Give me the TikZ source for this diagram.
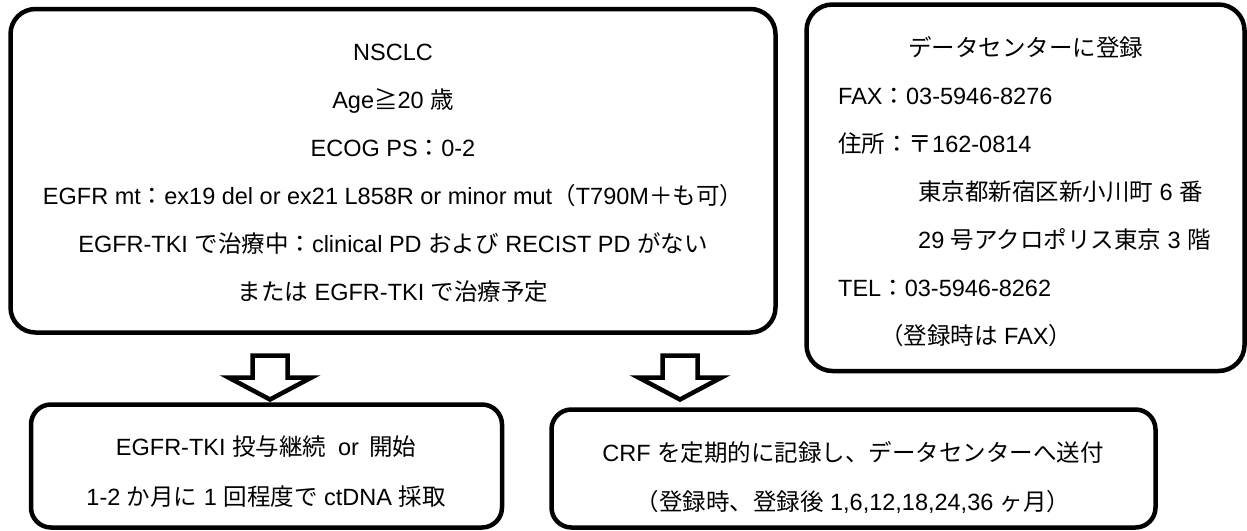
\documentclass[tikz,border=0pt]{standalone}
\usepackage{fontspec}
\setmainfont{Liberation Sans}
\newfontfamily\jp{Noto Sans CJK JP}
\usetikzlibrary{positioning}

\begin{document}
\begin{tikzpicture}[
  x=1pt,y=-1pt,
  font=\fontsize{23.5}{48}\selectfont,
  box/.style={draw,line width=4.5pt,rectangle,inner sep=0pt},
  txt/.style={inner sep=0pt,align=center},
  hollow/.style={draw,line width=4.5pt,fill=white,miter limit=10},
  downarrow/.pic={
    \draw[hollow] (-17.5,0) -- (17.5,0) -- (17.5,22) -- (41.5,22)
      -- (0,44) -- (-41.5,22) -- (-17.5,22) -- cycle;
  },
]
\useasboundingbox (0,0) rectangle (1247,530);

%% ===== Eligibility box =======================================================
\node[box,rounded corners=25pt,minimum width=765pt,minimum height=323.5pt]
  (elig) at (393,170.75) {};
\node[txt] (eligtxt) at (393,173) {%
  NSCLC\\
  Age{\jp ≧}20 {\jp 歳}\\
  ECOG PS{\jp ：}0-2\\
  EGFR mt{\jp ：}ex19 del or ex21 L858R or minor mut{\jp （}T790M{\jp ＋も可）}\\
  EGFR-TKI {\jp で治療中：}clinical PD {\jp および} RECIST PD {\jp がない}\\
  {\jp または} EGFR-TKI {\jp で治療予定}};

%% ===== Data center box =======================================================
\node[box,rounded corners=26pt,minimum width=438pt,minimum height=366.5pt]
  (dc) at (1025.5,187.75) {};
\node[txt,align=left,anchor=west] (dctxt) at (838,192) {%
  \hspace*{70pt}{\jp データセンターに登録}\\
  FAX{\jp ：}03-5946-8276\\
  {\jp 住所：〒}162-0814\\
  \hspace*{80pt}{\jp 東京都新宿区新小川町} 6 {\jp 番}\\
  \hspace*{80pt}29 {\jp 号アクロポリス東京} 3 {\jp 階}\\
  TEL{\jp ：}03-5946-8262\\
  \hspace*{42pt}{\jp （登録時は} FAX{\jp ）}};

%% ===== Arrows ================================================================
\pic (arr1) at (270,355.5) {downarrow};
\pic (arr2) at (680,355.5) {downarrow};

%% ===== Treatment box =========================================================
\node[box,rounded corners=20pt,minimum width=471pt,minimum height=123pt]
  (treat) at (266.5,466) {};
\node[txt,font=\fontsize{23.5}{50}\selectfont] (treattxt) at (266,472) {%
  EGFR-TKI {\jp 投与継続}\hspace{12pt}or\hspace{10pt}{\jp 開始}\\
  1-2 {\jp か月に} 1 {\jp 回程度で} ctDNA {\jp 採取}};

%% ===== CRF box ===============================================================
\node[box,rounded corners=20pt,minimum width=604pt,minimum height=118pt]
  (crf) at (853.5,468.5) {};
\node[txt,font=\fontsize{23.5}{49}\selectfont] (crftxt) at (853,477.5) {%
  CRF {\jp を定期的に記録し、データセンターへ送付}\\
  {\jp （登録時、登録後} 1,6,12,18,24,36 {\jp ヶ月）}};

\end{tikzpicture}
\end{document}
